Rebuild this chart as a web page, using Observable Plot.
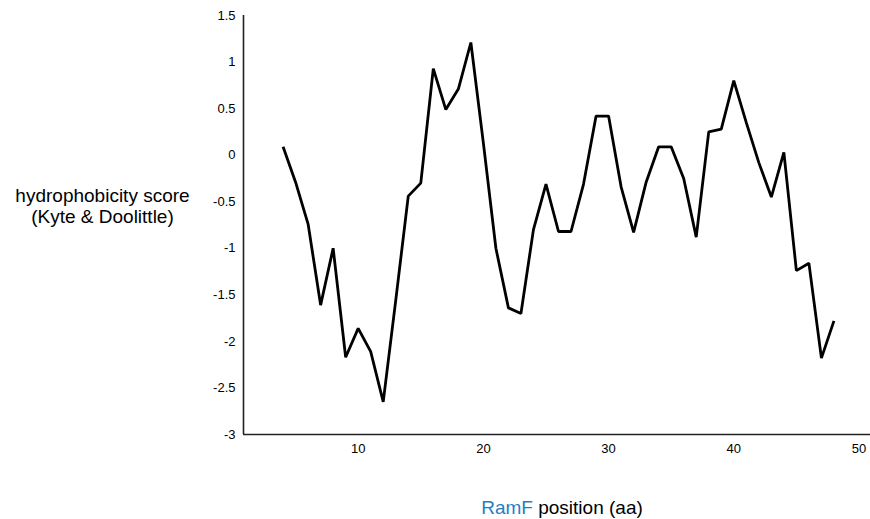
<!DOCTYPE html>
<html>
<head>
<meta charset="utf-8">
<script src="https://cdn.jsdelivr.net/npm/d3@7"></script>
<script src="https://cdn.jsdelivr.net/npm/@observablehq/plot@0.6"></script>
<style>
  html, body { margin: 0; padding: 0; background: #fff; }
  #wrap { position: relative; width: 870px; height: 519px; font-family: "Liberation Sans", Arial, Helvetica, sans-serif; }
  #ylab { position: absolute; left: 0; width: 205px; top: 185px; text-align: center; font-size: 19px; line-height: 21px; color: #000; }
  #xlab { position: absolute; left: 562px; top: 497px; transform: translateX(-50%); white-space: nowrap; font-size: 19px; line-height: 21px; color: #000; }
  #xlab .ram { color: #1f7fc1; }
</style>
</head>
<body>
<div id="wrap">
  <div id="chart"></div>
  <div id="ylab">hydrophobicity score<br>(Kyte &amp; Doolittle)</div>
  <div id="xlab"><span class="ram">RamF</span> position (aa)</div>
</div>
<script>
const positions = [4,5,6,7,8,9,10,11,12,13,14,15,16,17,18,19,20,21,22,23,24,25,26,27,28,29,30,31,32,33,34,35,36,37,38,39,40,41,42,43,44,45,46,47,48];
const scores = [0.09,-0.29,-0.74,-1.61,-1.0,-2.17,-1.86,-2.11,-2.65,-1.56,-0.44,-0.30,0.93,0.49,0.71,1.21,0.13,-1.0,-1.64,-1.70,-0.80,-0.31,-0.82,-0.82,-0.31,0.42,0.42,-0.34,-0.83,-0.29,0.09,0.09,-0.25,-0.88,0.25,0.28,0.80,0.35,-0.08,-0.45,0.03,-1.24,-1.16,-2.18,-1.78];
const xTicks = [10,20,30,40,50];
const yTicks = [-3,-2.5,-2,-1.5,-1,-0.5,0,0.5,1,1.5];
const xDomain = [0.84, 50.92];
const yDomain = [-3, 1.5];

const data = positions.map((p, i) => ({pos: p, score: scores[i]}));

const chart = Plot.plot({
  width: 870,
  height: 519,
  marginLeft: 243,
  marginRight: 0,
  marginTop: 15,
  marginBottom: 85,
  style: {fontFamily: '"Liberation Sans", Arial, Helvetica, sans-serif', fontSize: "13px", color: "#000", background: "#fff"},
  x: {domain: xDomain, ticks: xTicks, tickSize: 0, tickPadding: 9, label: null, tickFormat: d => String(d)},
  y: {domain: yDomain, ticks: yTicks, tickSize: 0, tickPadding: 8, label: null, tickFormat: d => String(d)},
  marks: [
    Plot.ruleX([xDomain[0]], {stroke: "#222", strokeWidth: 1.6}),
    Plot.ruleY([yDomain[0]], {stroke: "#222", strokeWidth: 1.6}),
    Plot.line(data, {x: "pos", y: "score", stroke: "#000", strokeWidth: 2.8, strokeLinejoin: "miter", strokeLinecap: "butt"})
  ]
});
document.getElementById("chart").appendChild(chart);
</script>
</body>
</html>
